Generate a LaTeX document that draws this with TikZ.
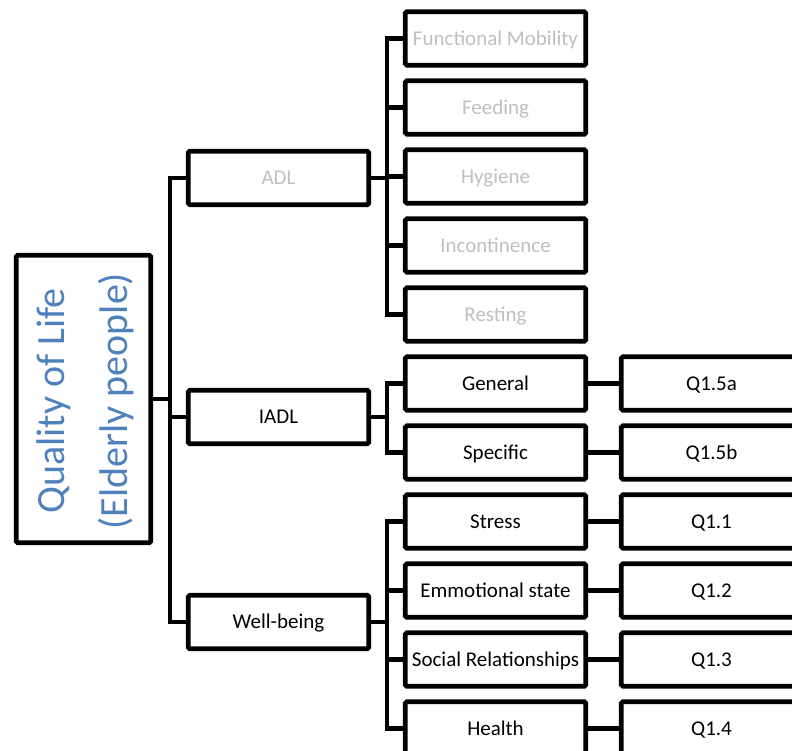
\documentclass[tikz,border=0pt]{standalone}
\usepackage{fontspec}
\setmainfont{Carlito}
\definecolor{faded}{HTML}{BFBFBF}
\definecolor{qblue}{HTML}{4F81BD}
\begin{document}
\begin{tikzpicture}[x=1pt,y=-1pt,
  box/.style={draw=black, line width=4.6pt, rounded corners=1.5pt,
    minimum width=180.5pt, minimum height=53.5pt, inner sep=0pt,
    font=\fontsize{21}{25}\selectfont, text height=13.5pt, text depth=0pt},
  dim/.style={text=faded},
  link/.style={line width=4.6pt}]
\useasboundingbox (0,0) rectangle (792,751);
\clip (0,0) rectangle (792,751);

% root
\node[draw=black, line width=4.6pt, rounded corners=1.5pt, minimum width=134.5pt,
  minimum height=287.5pt] (root) at (83.5,399) {};
\node[rotate=90, anchor=base, inner sep=0pt, text=qblue,
  font=\fontsize{40}{48}\selectfont] (rootA) at (64,401) {Quality of Life};
\node[rotate=90, anchor=base, inner sep=0pt, text=qblue,
  font=\fontsize{40}{48}\selectfont] (rootB) at (127,401) {(Elderly people)};

% second level
\node[box, dim] (adl)  at (278.5,178) {ADL};
\node[box]      (iadl) at (278.5,417) {IADL};
\node[box]      (wb)   at (278.5,622) {Well-being};

% third level
\node[box, dim] (fm)   at (495.5,38.5)  {Functional Mobility};
\node[box, dim] (feed) at (495.5,107.5) {Feeding};
\node[box, dim] (hyg)  at (495.5,176.5) {Hygiene};
\node[box, dim] (inc)  at (495.5,245.5) {Incontinence};
\node[box, dim] (rest) at (495.5,314.5) {Resting};
\node[box] (gen)  at (495.5,383.5) {General};
\node[box] (spec) at (495.5,452.5) {Specific};
\node[box] (str)  at (495.5,521.5) {Stress};
\node[box] (emo)  at (495.5,590.5) {Emmotional state};
\node[box] (soc)  at (495.5,659.5) {Social Relationships};
\node[box] (hea)  at (495.5,728.5) {Health};

% questions
\node[box] (q5a) at (711.5,383.5) {Q1.5a};
\node[box] (q5b) at (711.5,452.5) {Q1.5b};
\node[box] (q1)  at (711.5,521.5) {Q1.1};
\node[box] (q2)  at (711.5,590.5) {Q1.2};
\node[box] (q3)  at (711.5,659.5) {Q1.3};
\node[box] (q4)  at (711.5,728.5) {Q1.4};

% bus lines
\coordinate (busroot) at (170,0);
\coordinate (bussub) at (387,0);

\draw[link] (root.east) -- (root.east -| busroot);
\draw[link] (adl.west) -- (adl.west -| busroot) -- (wb.west -| busroot) -- (wb.west);
\draw[link] (iadl.west) -- (iadl.west -| busroot);

\draw[link] (adl.east) -- (adl.east -| bussub);
\draw[link] (fm.west) -- (fm.west -| bussub) -- (rest.west -| bussub) -- (rest.west);
\foreach \n in {feed,hyg,inc}
  \draw[link] (\n.west) -- (\n.west -| bussub);

\draw[link] (iadl.east) -- (iadl.east -| bussub);
\draw[link] (gen.west) -- (gen.west -| bussub) -- (spec.west -| bussub) -- (spec.west);

\draw[link] (wb.east) -- (wb.east -| bussub);
\draw[link] (str.west) -- (str.west -| bussub) -- (hea.west -| bussub) -- (hea.west);
\foreach \n in {emo,soc}
  \draw[link] (\n.west) -- (\n.west -| bussub);

\draw[link] (gen.east) -- (q5a.west);
\draw[link] (spec.east) -- (q5b.west);
\draw[link] (str.east) -- (q1.west);
\draw[link] (emo.east) -- (q2.west);
\draw[link] (soc.east) -- (q3.west);
\draw[link] (hea.east) -- (q4.west);
\end{tikzpicture}
\end{document}
